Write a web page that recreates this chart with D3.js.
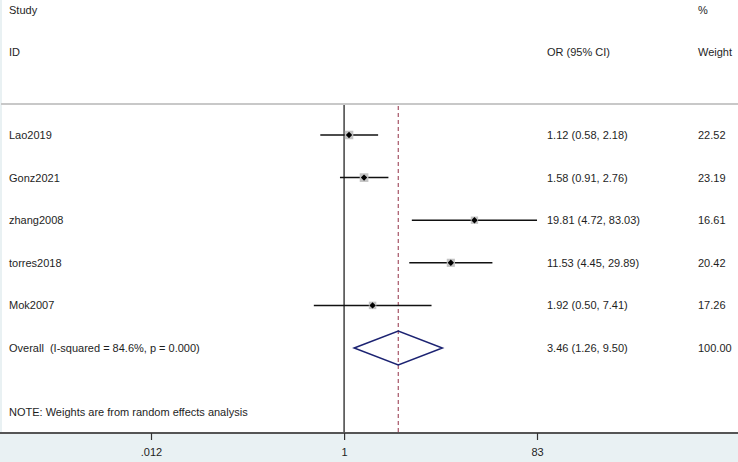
<!DOCTYPE html>
<html>
<head>
<meta charset="utf-8">
<script src="https://cdn.jsdelivr.net/npm/d3@7"></script>
<style>
  body { margin: 0; background: #fff; }
  svg text { font-family: "Liberation Sans", Arial, sans-serif; font-size: 11px; fill: #1e1e1e; white-space: pre; }
</style>
</head>
<body>
<svg id="forest"></svg>
<script>
// Study data
const studies = ["Lao2019", "Gonz2021", "zhang2008", "torres2018", "Mok2007"];
const orValues = [1.12, 1.58, 19.81, 11.53, 1.92];
const lowerCI = [0.58, 0.91, 4.72, 4.45, 0.50];
const upperCI = [2.18, 2.76, 83.03, 29.89, 7.41];
const weights = [22.52, 23.19, 16.61, 20.42, 17.26];

// Pooled estimate
const overallLabel = "Overall  (I-squared = 84.6%, p = 0.000)";
const overallOR = 3.46;
const overallLower = 1.26;
const overallUpper = 9.50;
const overallWeight = 100.00;

const tickValues = [0.012, 1, 83];
const tickLabels = [".012", "1", "83"];

const width = 738;
const height = 462;

const svg = d3.select("#forest")
    .attr("width", width)
    .attr("height", height);

// Background panels
svg.append("rect").attr("x", 0).attr("y", 0).attr("width", width).attr("height", height).attr("fill", "#e9f1f3");
svg.append("rect").attr("x", 2).attr("y", 0).attr("width", width - 2).attr("height", 433).attr("fill", "#fff");

const x = d3.scaleLog()
    .domain([0.012, 83])
    .range([151, 537]);

const rowY = d3.scalePoint()
    .domain(studies.concat(["Overall"]))
    .range([135, 348]);

const fmt = d3.format(".2f");

// Header text
svg.append("text").attr("x", 9).attr("y", 14).text("Study");
svg.append("text").attr("x", 9).attr("y", 56).text("ID");
svg.append("text").attr("x", 547).attr("y", 56).text("OR (95% CI)");
svg.append("text").attr("x", 698).attr("y", 14).text("%");
svg.append("text").attr("x", 698).attr("y", 56).text("Weight");

// Header divider
svg.append("line")
    .attr("x1", 1).attr("x2", width)
    .attr("y1", 104).attr("y2", 104)
    .attr("stroke", "#c8c8c8")
    .attr("stroke-width", 2);

// No-effect line
svg.append("line")
    .attr("x1", x(1)).attr("x2", x(1))
    .attr("y1", 105).attr("y2", 432)
    .attr("stroke", "#333")
    .attr("stroke-width", 1.4);

// Overall effect line
svg.append("line")
    .attr("x1", x(overallOR)).attr("x2", x(overallOR))
    .attr("y1", 106).attr("y2", 432)
    .attr("stroke", "#a65466")
    .attr("stroke-width", 1.2)
    .attr("stroke-dasharray", "4,3");

// Study rows
const rows = svg.append("g").selectAll("g")
    .data(studies)
    .join("g")
    .attr("transform", d => `translate(0,${rowY(d)})`);

rows.append("line")
    .attr("x1", (d, i) => x(lowerCI[i]))
    .attr("x2", (d, i) => x(upperCI[i]))
    .attr("stroke", "#111")
    .attr("stroke-width", 1.5);

rows.append("rect")
    .attr("x", (d, i) => x(orValues[i]) - Math.sqrt(weights[i]) * 0.9)
    .attr("y", (d, i) => -Math.sqrt(weights[i]) * 0.9)
    .attr("width", (d, i) => Math.sqrt(weights[i]) * 1.8)
    .attr("height", (d, i) => Math.sqrt(weights[i]) * 1.8)
    .attr("fill", "#c4c4c4");

rows.append("path")
    .attr("d", (d, i) => {
        const cx = x(orValues[i]);
        return `M${cx - 3.2},0 L${cx},-3.2 L${cx + 3.2},0 L${cx},3.2 Z`;
    })
    .attr("fill", "#000");

rows.append("text").attr("x", 9).attr("y", 4).text(d => d);
rows.append("text").attr("x", 547).attr("y", 4)
    .text((d, i) => `${fmt(orValues[i])} (${fmt(lowerCI[i])}, ${fmt(upperCI[i])})`);
rows.append("text").attr("x", 698).attr("y", 4).text((d, i) => fmt(weights[i]));

// Overall diamond
const oy = rowY("Overall");
svg.append("path")
    .attr("d", `M${x(overallLower)},${oy} L${x(overallOR)},${oy - 17} L${x(overallUpper)},${oy} L${x(overallOR)},${oy + 17} Z`)
    .attr("fill", "none")
    .attr("stroke", "#1c2372")
    .attr("stroke-width", 1.5);

svg.append("text").attr("x", 9).attr("y", oy + 4).text(overallLabel);
svg.append("text").attr("x", 547).attr("y", oy + 4)
    .text(`${fmt(overallOR)} (${fmt(overallLower)}, ${fmt(overallUpper)})`);
svg.append("text").attr("x", 698).attr("y", oy + 4).text(fmt(overallWeight));

// Note
svg.append("text").attr("x", 9).attr("y", 416).text("NOTE: Weights are from random effects analysis");

// Axis
svg.append("line")
    .attr("x1", 0).attr("x2", width)
    .attr("y1", 433).attr("y2", 433)
    .attr("stroke", "#555")
    .attr("stroke-width", 2);

const axisG = svg.append("g")
    .attr("transform", "translate(0,433)")
    .call(d3.axisBottom(x)
        .tickValues(tickValues)
        .tickFormat((d, i) => tickLabels[i])
        .tickSize(7)
        .tickPadding(8));

axisG.select(".domain").remove();
axisG.selectAll(".tick line").attr("stroke", "#333").attr("stroke-width", 1.2);
axisG.selectAll(".tick text")
    .style("font-family", "'Liberation Sans', Arial, sans-serif")
    .style("font-size", "11px")
    .attr("fill", "#1e1e1e");
</script>
</body>
</html>
